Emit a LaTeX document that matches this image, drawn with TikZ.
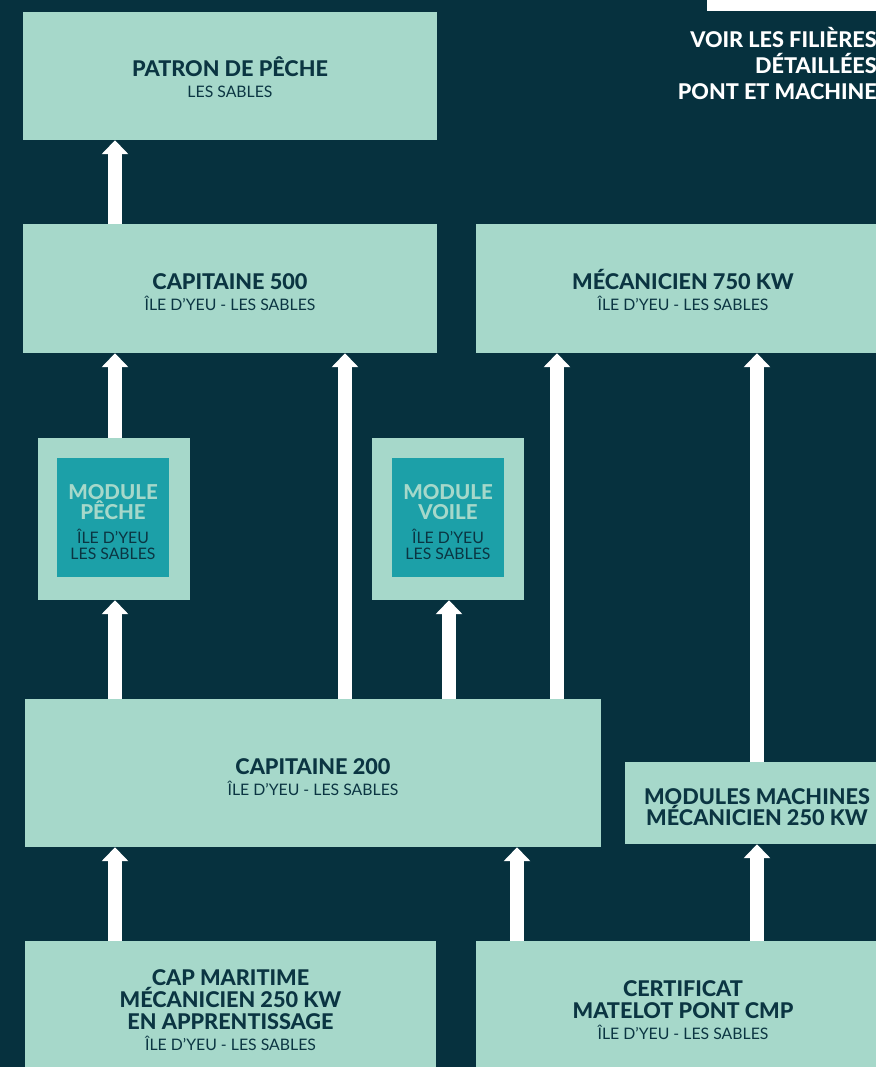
\documentclass[tikz,border=0pt]{standalone}
\usepackage{fontspec}
\setmainfont{Lato}[BoldFont={Lato Heavy}]
\usetikzlibrary{arrows.meta}

\definecolor{bgnavy}{HTML}{06313E}
\definecolor{mint}{HTML}{A6D8CA}
\definecolor{tealbox}{HTML}{1CA0A8}
\definecolor{ink}{HTML}{0B3542}

\newcommand{\hd}{\bfseries\fontsize{18.5}{19}\selectfont}
\newcommand{\modhd}{\bfseries\fontsize{17.5}{17}\selectfont}
\newcommand{\lite}{\mdseries\fontsize{13.5}{14}\selectfont}

\tikzset{
    box/.style={fill=mint, inner sep=0pt, minimum width=12.42cm, minimum height=3.87cm},
    lbl/.style={text=ink, align=center, inner sep=0pt, font=\hd},
    modbox/.style={fill=mint, inner sep=0pt, minimum width=4.56cm, minimum height=4.86cm},
    modin/.style={fill=tealbox, inner sep=0pt, minimum width=3.36cm, minimum height=3.57cm},
    modlbl/.style={text=mint, align=center, inner sep=0pt, font=\modhd},
    up/.style={draw=white, line width=0.42cm, -{Triangle[width=0.78cm,length=0.42cm]}},
}

\begin{document}
\begin{tikzpicture}[x=0.03cm, y=-0.03cm]
    \useasboundingbox (0,0) rectangle (876,1067);
    \fill[bgnavy] (0,0) rectangle (876,1067);
    \fill[white] (707,0) rectangle (880,11);

    % filieres
    \node[box, minimum height=3.84cm] (patron) at (230,76) {};
    \node[lbl, yshift=-0.03cm] at (patron) {PATRON DE PÊCHE\\[-1pt] \lite LES SABLES};
    \node[box] (cap500) at (230,288.5) {};
    \node[lbl, yshift=-0.12cm] at (cap500) {CAPITAINE 500\\[-1pt] \lite ÎLE D’YEU - LES SABLES};
    \node[box] (meca750) at (683,288.5) {};
    \node[lbl, yshift=-0.05cm] at (meca750) {MÉCANICIEN 750 KW\\[-1pt] \lite ÎLE D’YEU - LES SABLES};

    \node[modbox] (peche) at (114,519) {};
    \node[modin] (pechein) at (113,517.5) {};
    \node[modlbl, yshift=-0.13cm] at (pechein)
        {MODULE\\ PÊCHE\\[3.4pt] \lite\color{ink} ÎLE D’YEU\\[-3.3pt] \lite\color{ink} LES SABLES};
    \node[modbox] (voile) at (448,519) {};
    \node[modin] (voilein) at (448,517.5) {};
    \node[modlbl, yshift=-0.13cm] at (voilein)
        {MODULE\\ VOILE\\[3.4pt] \lite\color{ink} ÎLE D’YEU\\[-3.3pt] \lite\color{ink} LES SABLES};

    \node[box, minimum width=17.28cm, minimum height=4.44cm] (cap200) at (313,773) {};
    \node[lbl, yshift=-0.12cm] at (cap200) {CAPITAINE 200\\[-1pt] \lite ÎLE D’YEU - LES SABLES};
    \node[box, minimum width=7.92cm, minimum height=2.46cm] (machines) at (757,803) {};
    \node[lbl, yshift=-0.12cm] at (machines) {MODULES MACHINES\\[-1pt] MÉCANICIEN 250 KW};
    \node[box, minimum width=12.33cm, minimum height=4.14cm] (capmar) at (230.5,1010) {};
    \node[lbl] at (capmar)
        {CAP MARITIME\\ MÉCANICIEN 250 KW\\ EN APPRENTISSAGE\\[-1pt] \lite ÎLE D’YEU - LES SABLES};
    \node[box, minimum height=4.14cm] (certif) at (683,1010) {};
    \node[lbl] at (certif) {CERTIFICAT\\ MATELOT PONT CMP\\[-1pt] \lite ÎLE D’YEU - LES SABLES};

    \node[anchor=north east, align=right, text=white, font=\bfseries\fontsize{18.5}{22.3}\selectfont]
        (voir) at (881,23) {VOIR LES FILIÈRES\\ DÉTAILLÉES\\ PONT ET MACHINE};

    % colonnes des fleches
    \coordinate (colA) at (115,0);
    \coordinate (colB) at (345,0);
    \coordinate (colC) at (449,0);
    \coordinate (colF) at (517,0);
    \coordinate (colD) at (557,0);
    \coordinate (colE) at (757,0);

    \draw[up] (cap500.north -| colA) -- (patron.south -| colA);
    \draw[up] (peche.north -| colA) -- (cap500.south -| colA);
    \draw[up] (cap200.north -| colA) -- (peche.south -| colA);
    \draw[up] (cap200.north -| colB) -- (cap500.south -| colB);
    \draw[up] (cap200.north -| colC) -- (voile.south -| colC);
    \draw[up] (cap200.north -| colD) -- (meca750.south -| colD);
    \draw[up] (machines.north -| colE) -- (meca750.south -| colE);
    \draw[up] (capmar.north -| colA) -- (cap200.south -| colA);
    \draw[up] (certif.north -| colF) -- (cap200.south -| colF);
    \draw[up] (certif.north -| colE) -- (machines.south -| colE);
\end{tikzpicture}
\end{document}
